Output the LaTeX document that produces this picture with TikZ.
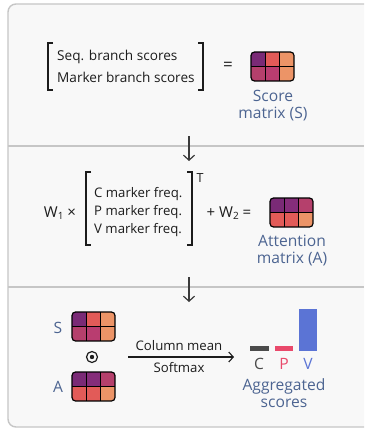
\documentclass[tikz,border=0pt]{standalone}
\usepackage{fontspec}
\setmainfont{Open Sans}
\usetikzlibrary{arrows.meta,calc}

\definecolor{panelfill}{HTML}{F8F8F8}
\definecolor{panelline}{HTML}{C6C6C6}
\definecolor{ink}{HTML}{1C1C1C}
\definecolor{arrowink}{HTML}{3A3A3A}
\definecolor{caption}{HTML}{4C6491}
\definecolor{hPurple}{HTML}{7A2A76}
\definecolor{hPurpleB}{HTML}{852D7A}
\definecolor{hCoral}{HTML}{E25B58}
\definecolor{hOrange}{HTML}{EC9467}
\definecolor{hMagenta}{HTML}{B5406C}
\definecolor{hMagentaB}{HTML}{B93D70}
\definecolor{barC}{HTML}{4B4B4B}
\definecolor{barP}{HTML}{E9496B}
\definecolor{barV}{HTML}{5B74D5}

% heat map: #1 name, #2 left, #3 top, #4..#9 cell colours (row by row)
\newcommand\heatmap[9]{%
  \begin{scope}
    \clip[rounded corners=3.5pt] (#2,#3) rectangle ++(43,29);
    \fill[#4] (#2,#3) rectangle ++(14.33,14.5);
    \fill[#5] ($(#2,#3)+(14.33,0)$) rectangle ++(14.34,14.5);
    \fill[#6] ($(#2,#3)+(28.67,0)$) rectangle ++(14.33,14.5);
    \fill[#7] ($(#2,#3)+(0,14.5)$) rectangle ++(14.33,14.5);
    \fill[#8] ($(#2,#3)+(14.33,14.5)$) rectangle ++(14.34,14.5);
    \fill[#9] ($(#2,#3)+(28.67,14.5)$) rectangle ++(14.33,14.5);
    \draw[line width=1.1pt,black] ($(#2,#3)+(14.33,0)$) -- ++(0,29)
      ($(#2,#3)+(28.67,0)$) -- ++(0,29) ($(#2,#3)+(0,14.5)$) -- ++(43,0);
  \end{scope}
  \node[heatbox] (#1) at ($(#2,#3)+(21.5,14.5)$) {};
}

\begin{document}
\begin{tikzpicture}[x=1pt,y=-1pt,
  txt/.style={inner sep=0pt,text=ink,font=\fontsize{13.6}{20}\selectfont},
  smalltxt/.style={inner sep=0pt,text=ink,font=\fontsize{13.2}{18}\selectfont},
  captxt/.style={inner sep=0pt,text=caption,align=center,font=\fontsize{15.6}{17}\selectfont},
  heatbox/.style={draw=black,line width=1.2pt,rounded corners=3.5pt,
    minimum width=43pt,minimum height=29pt,inner sep=0pt},
  brk/.style={draw=ink,line width=1.3pt},
  flow/.style={draw=arrowink,line width=1.2pt,-{Straight Barb[length=5pt,width=11pt]}},
  sep/.style={draw=panelline,line width=1.4pt}]
\useasboundingbox (0,0) rectangle (364,428);
\fill[white] (0,0) rectangle (364,428);
\begin{scope}
  \clip (0,0) rectangle (364,428);
  \draw[panelline,fill=panelfill,line width=1.4pt,rounded corners=8pt]
    (8,4) rectangle (380,427);
  \draw[sep] (8,146) -- (364,146);
  \draw[sep] (8,287) -- (364,287);
\end{scope}

% ---- step 1: score matrix
\node[txt,anchor=west] (seq) at (57,57) {Seq. branch scores};
\node[txt,anchor=west] (mrk) at (57,77) {Marker branch scores};
\draw[brk] (53,43) -- (48,43) -- (48,90) -- (53,90);
\draw[brk] (198,43) -- (203,43) -- (203,90) -- (198,90);
\node[txt,font=\fontsize{17}{17}\selectfont] (eq1) at (228,66) {=};
\heatmap{Smat}{251}{52}{hPurple}{hCoral}{hOrange}{hMagenta}{hMagentaB}{hOrange}
\node[captxt] (Scap) at (273,106) {Score\\matrix (S)};

\coordinate (d1a) at (189,136);
\coordinate (d1b) at (189,161);
\draw[flow] (d1a) -- (d1b);

% ---- step 2: attention matrix
\node[txt,font=\fontsize{15}{15}\selectfont] (w1) at (60,213) {W\raisebox{-2.5pt}{\fontsize{10}{10}\selectfont 1} ×};
\draw[brk] (91,172) -- (86,172) -- (86,245) -- (91,245);
\draw[brk] (187,172) -- (192,172) -- (192,245) -- (187,245);
\node[txt,font=\fontsize{12.5}{12}\selectfont] (tr) at (200,178) {T};
\node[smalltxt,anchor=west] (fc) at (94,194) {C marker freq.};
\node[smalltxt,anchor=west] (fp) at (94,212) {P marker freq.};
\node[smalltxt,anchor=west] (fv) at (94,230) {V marker freq.};
\node[txt,font=\fontsize{15}{15}\selectfont] (w2) at (229,213) {+ W\raisebox{-2.5pt}{\fontsize{10}{10}\selectfont 2} =};
\heatmap{Amat}{270}{198}{hPurple}{hPurpleB}{hMagenta}{hCoral}{hCoral}{hOrange}
\node[captxt] (Acap) at (292,251) {Attention\\matrix (A)};

\coordinate (d2a) at (189,277);
\coordinate (d2b) at (189,302);
\draw[flow] (d2a) -- (d2b);

% ---- step 3: aggregation
\node[captxt] (Slab) at (58,328) {S};
\heatmap{S3}{72}{312}{hPurple}{hCoral}{hOrange}{hMagenta}{hMagentaB}{hOrange}
\node[draw=ink,circle,line width=1.2pt,minimum size=11pt,inner sep=0pt] (odot) at (92,357) {};
\fill[ink] (odot.center) circle (2.2pt);
\node[captxt] (Alab) at (58,387) {A};
\heatmap{A3}{72}{372}{hPurple}{hPurpleB}{hMagenta}{hCoral}{hCoral}{hOrange}

\coordinate (m1) at (128,357);
\coordinate (m2) at (234,357);
\draw[draw=ink,line width=1.1pt,-{Straight Barb[length=4.5pt,width=10pt]}] (m1) -- (m2);
\node[smalltxt] (cm) at (179,346) {Column mean};
\node[smalltxt] (sm) at (179,368) {Softmax};

\fill[barC] (250,346) rectangle (269,351);
\fill[barP] (275,346) rectangle (293,351);
\fill[barV] (299,309) rectangle (317,351);
\node[captxt,text=barC] (lc) at (259,364) {C};
\node[captxt,text=barP] (lp) at (284,364) {P};
\node[captxt,text=barV] (lv) at (308,364) {V};
\node[captxt] (aggcap) at (284,393) {Aggregated\\scores};
\end{tikzpicture}
\end{document}
